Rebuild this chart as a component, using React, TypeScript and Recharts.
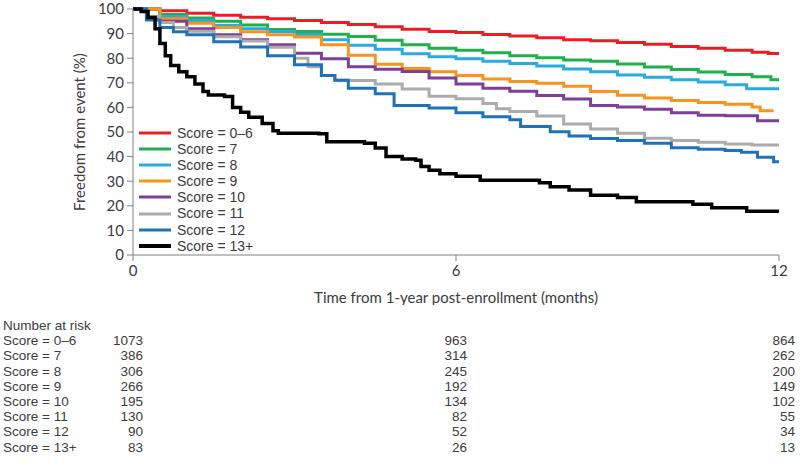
import { LineChart, Line, XAxis, YAxis, Legend } from 'recharts';

// Kaplan-Meier curves: [month, % free from event]
const score0to6: [number, number][] = [
  [0, 100], [0.5, 99.3], [1, 98.3], [1.5, 97.5], [2, 96.6], [2.5, 96], [3, 95.3], [3.5, 94.5],
  [4, 93.7], [4.5, 92.8], [5, 91.8], [5.5, 90.9], [6, 90.4], [6.5, 89.6], [7, 89], [7.5, 88.3],
  [8, 87.5], [8.5, 87.1], [9, 86.4], [9.5, 85.7], [10, 84.8], [10.5, 84], [11, 83.2], [11.5, 82.4],
  [11.8, 81.9], [12, 81.9],
];
const score7: [number, number][] = [
  [0, 100], [0.5, 97.8], [1, 96.3], [1.5, 95], [2, 93.5], [2.5, 91.7], [3, 90.9], [3.5, 89.7],
  [4, 88.8], [4.5, 87.3], [5, 85.5], [5.5, 84], [6, 83.2], [6.5, 82.2], [7, 81], [7.5, 80.2],
  [8, 79.3], [8.5, 78.8], [9, 77.6], [9.5, 76.4], [10, 75.4], [10.5, 74.4], [11, 73.4], [11.5, 72.5],
  [11.85, 71.2], [12, 71.2],
];
const score8: [number, number][] = [
  [0, 100], [0.5, 97], [1, 95.3], [1.5, 93.3], [2, 92], [2.5, 90.9], [3, 89.6], [3.5, 87.5],
  [4, 85.3], [4.5, 83.6], [5, 81.8], [5.5, 80.6], [6, 79.8], [6.5, 78.8], [7, 77.8], [7.5, 76.8],
  [8, 75.6], [8.5, 74.5], [9, 73.2], [9.5, 72.3], [10, 71.2], [10.5, 70.3], [11, 69.2], [11.4, 67.6],
  [12, 67.6],
];
const score9: [number, number][] = [
  [0, 100], [0.5, 96], [1, 94.2], [1.5, 92.5], [2, 90.8], [2.5, 89.5], [3, 88.6], [3.5, 85.5],
  [4, 81.2], [4.5, 77.5], [5, 75.8], [5.5, 74.5], [6, 73], [6.5, 71.5], [7, 70.5], [7.5, 69.8],
  [8, 68.6], [8.5, 66.5], [9, 64.9], [9.5, 63.8], [10, 62.8], [10.5, 62], [11, 61.3], [11.5, 60.2],
  [11.65, 58.6], [11.9, 58.6],
];
const score10: [number, number][] = [
  [0, 100], [0.25, 96.5], [0.5, 95], [1, 92], [1.5, 89.5], [2, 87.5], [2.5, 85.5], [3, 82],
  [3.5, 79.8], [4, 76.5], [4.5, 75.5], [5, 74.6], [5.5, 72], [6, 69.5], [6.5, 67.8], [7, 66.6],
  [7.5, 64.8], [8, 63.4], [8.5, 60.8], [9, 60.2], [9.5, 59.2], [10, 57.8], [10.5, 56.8], [11, 56.6],
  [11.6, 54.6], [12, 54.6],
];
const score11: [number, number][] = [
  [0, 100], [0.25, 97], [0.5, 94.5], [0.75, 92.5], [1, 91], [1.5, 88.7], [2, 87], [2.5, 84.5],
  [3, 80], [3.25, 76.5], [3.5, 73], [3.75, 71], [4, 70.9], [4.5, 69.5], [5, 67.5], [5.5, 64.5],
  [6, 63.5], [6.5, 61.6], [6.75, 59.5], [7, 58.3], [7.5, 56.5], [8, 53.3], [8.5, 51.2], [9, 49.5],
  [9.5, 47.5], [10, 46.5], [10.5, 45.8], [11, 45.1], [11.5, 44.7], [12, 44.7],
];
const score12: [number, number][] = [
  [0, 100], [0.25, 95.5], [0.5, 92.5], [0.75, 90.8], [1, 89.5], [1.5, 86.7], [2, 84.6], [2.5, 81],
  [3, 77.3], [3.5, 73], [3.75, 71], [4, 67.8], [4.5, 65.5], [4.85, 60.8], [5.5, 59.8], [6, 57.8],
  [6.5, 56.2], [7, 55], [7.2, 52.2], [7.75, 50.1], [8.1, 48.4], [8.5, 47.4], [9, 46.5], [9.5, 45.4],
  [10, 43.6], [10.5, 43], [11, 42.5], [11.3, 41.8], [11.6, 39.7], [11.9, 37.9], [12, 37.9],
];
const score13plus: [number, number][] = [
  [0, 100], [0.15, 99], [0.28, 96.5], [0.41, 92], [0.5, 86], [0.6, 81], [0.7, 77], [0.85, 74.5],
  [1, 72.5], [1.15, 69.5], [1.3, 66.5], [1.4, 65], [1.7, 64.4], [1.85, 60], [2, 58], [2.15, 56],
  [2.4, 53.5], [2.6, 50.5], [2.7, 49.5], [3.45, 49.3], [3.6, 46], [4.3, 45.4], [4.5, 43.5],
  [4.7, 40], [5, 39], [5.25, 38.5], [5.35, 36], [5.5, 34.5], [5.7, 33], [6, 32], [6.45, 30.4],
  [7.55, 29.4], [7.75, 27.7], [8.1, 26.4], [8.5, 24.3], [9, 23.4], [9.35, 21.6], [10.4, 20.6],
  [10.75, 19.2], [11.4, 17.8], [12, 17.8],
];

const scoreLabels = [
  'Score = 0–6', 'Score = 7', 'Score = 8', 'Score = 9',
  'Score = 10', 'Score = 11', 'Score = 12', 'Score = 13+',
];
const scoreColors = ['#ED1C24', '#1DB04B', '#29ABE2', '#F7941D', '#7F3F98', '#ABABAB', '#1F71B8', '#000000'];
const curves = [score0to6, score7, score8, score9, score10, score11, score12, score13plus];

const monthTicks = [0, 6, 12];
const percentTicks = [0, 10, 20, 30, 40, 50, 60, 70, 80, 90, 100];

// number at risk at 0, 6 and 12 months
const atRisk0 = [1073, 386, 306, 266, 195, 130, 90, 83];
const atRisk6 = [963, 314, 245, 192, 134, 82, 52, 26];
const atRisk12 = [864, 262, 200, 149, 102, 55, 34, 13];

const FONT = 'Lato, "Open Sans", sans-serif';
const TABLE_FONT = '"Liberation Sans", Arial, sans-serif';
const TEXT = '#3c3c3c';
const AXIS = '#808080';

const series = scoreLabels.map((name, i) => ({
  name,
  color: scoreColors[i],
  data: curves[i].map(([t, v]) => ({ t, v })),
}));

const renderLegend = () => (
  <div style={{ fontFamily: TABLE_FONT, fontSize: 14, color: TEXT, lineHeight: '16.1px' }}>
    {series.map((s) => (
      <div key={s.name} style={{ display: 'flex', alignItems: 'center', height: 16.1 }}>
        <svg width={38} height={16}>
          <line x1={0} x2={32} y1={8} y2={8} stroke={s.color} strokeWidth={s.color === '#000000' ? 4 : 3} />
        </svg>
        <span>{s.name}</span>
      </div>
    ))}
  </div>
);

const riskColumns = [
  { right: 143, values: atRisk0 },
  { right: 467, values: atRisk6 },
  { right: 795, values: atRisk12 },
];

const ROW = 15.2;

const App = () => {
  return (
    <div style={{ position: 'absolute', left: 0, top: 0, width: 800, height: 468, background: '#fff', fontFamily: FONT }}>
      <LineChart width={800} height={305} margin={{ top: 9, right: 21, left: 0, bottom: 0 }}>
        <XAxis
          dataKey="t"
          type="number"
          domain={[0, 12]}
          ticks={monthTicks}
          allowDuplicatedCategory={false}
          height={50}
          stroke={AXIS}
          tickSize={6}
          tickMargin={4}
          tick={{ fill: TEXT, fontSize: 15, fontFamily: FONT }}
          label={{
            value: 'Time from 1-year post-enrollment (months)',
            position: 'insideBottom',
            offset: 2,
            fill: TEXT,
            fontSize: 15,
            fontFamily: FONT,
          }}
        />
        <YAxis
          dataKey="v"
          type="number"
          domain={[0, 100]}
          ticks={percentTicks}
          interval={0}
          width={133}
          stroke={AXIS}
          tickSize={6}
          tickMargin={3}
          tick={{ fill: TEXT, fontSize: 15, fontFamily: FONT }}
          label={{
            value: 'Freedom from event (%)',
            angle: -90,
            position: 'insideLeft',
            offset: 0,
            dx: 80,
            style: { textAnchor: 'middle' },
            fill: TEXT,
            fontSize: 15,
            fontFamily: FONT,
          }}
        />
        <Legend
          layout="vertical"
          align="center"
          verticalAlign="middle"
          content={renderLegend}
          wrapperStyle={{ left: 139, top: 125, width: 'auto' }}
        />
        {series.map((s) => (
          <Line
            key={s.name}
            name={s.name}
            data={s.data}
            dataKey="v"
            type="stepAfter"
            stroke={s.color}
            strokeWidth={s.color === '#000000' ? 3.5 : 3}
            dot={false}
            activeDot={false}
            isAnimationActive={false}
          />
        ))}
      </LineChart>
      {/* number at risk table */}
      <svg
        width={800}
        height={160}
        style={{ position: 'absolute', left: 0, top: 308 }}
        fontFamily={TABLE_FONT}
        fontSize={13.5}
        fill={TEXT}
      >
        <text x={3} y={22}>Number at risk</text>
        {scoreLabels.map((l, i) => (
          <text key={l} x={3} y={22 + ROW * (i + 1)}>{l}</text>
        ))}
        {riskColumns.map((col) =>
          col.values.map((n, i) => (
            <text key={`${col.right}-${i}`} x={col.right} y={22 + ROW * (i + 1)} textAnchor="end">
              {n}
            </text>
          )),
        )}
      </svg>
    </div>
  );
};

export default App;
